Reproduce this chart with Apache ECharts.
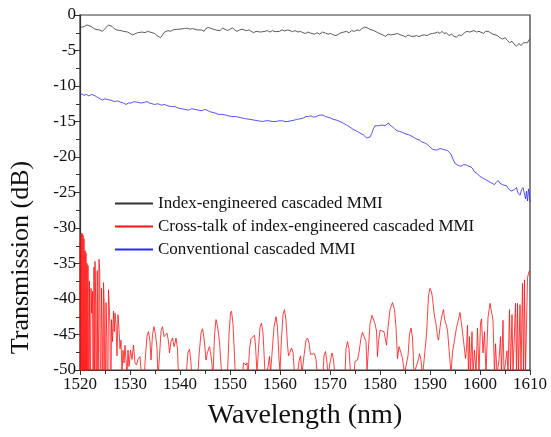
<!DOCTYPE html>
<html><head><meta charset="utf-8">
<script src="https://cdn.jsdelivr.net/npm/echarts@6/dist/echarts.min.js"></script>
<style>html,body{margin:0;padding:0;background:#fff}#c{width:551px;height:437px}</style>
</head><body><div id="c"></div>
<script>
const xTicks = [1520,1530,1540,1550,1560,1570,1580,1590,1600,1610];
const yTicks = [-50,-45,-40,-35,-30,-25,-20,-15,-10,-5,0];
const seriesNames = ["Index-engineered cascaded MMI","Cross-talk of index-engineered cascaded MMI","Conventional cascaded MMI"];

const blackX = [1520.0,1520.2,1520.6,1521.0,1521.4,1521.8,1522.2,1522.6,1523.0,1523.4,1523.8,1524.2,1524.5,1524.9,1525.3,1525.7,1526.0,1526.4,1526.8,1527.3,1527.7,1528.2,1528.7,1529.1,1529.5,1530.0,1530.5,1530.9,1531.5,1531.9,1532.4,1533.0,1533.5,1534.0,1534.4,1534.9,1535.4,1535.8,1536.1,1536.5,1536.9,1537.2,1537.6,1538.1,1538.6,1539.0,1539.5,1540.0,1540.4,1540.9,1541.5,1542.0,1542.5,1542.9,1543.4,1543.8,1544.3,1544.8,1545.2,1545.7,1546.2,1546.6,1547.1,1547.5,1548.0,1548.5,1549.0,1549.5,1550.0,1550.5,1550.9,1551.4,1551.9,1552.4,1552.8,1553.3,1553.8,1554.2,1554.7,1555.2,1555.6,1556.1,1556.5,1557.0,1557.5,1558.0,1558.5,1559.0,1559.4,1559.9,1560.4,1560.9,1561.5,1562.0,1562.5,1563.0,1563.6,1564.1,1564.6,1565.1,1565.6,1566.1,1566.5,1566.9,1567.4,1567.9,1568.5,1569.1,1569.6,1570.1,1570.7,1571.2,1571.7,1572.2,1572.8,1573.3,1573.8,1574.3,1574.9,1575.4,1575.9,1576.4,1576.9,1577.4,1577.9,1578.3,1578.8,1579.2,1579.7,1580.2,1580.6,1581.1,1581.6,1582.1,1582.5,1583.0,1583.5,1584.1,1584.6,1585.1,1585.6,1586.2,1586.8,1587.3,1587.8,1588.4,1588.9,1589.4,1589.9,1590.5,1591.0,1591.5,1592.0,1592.4,1592.8,1593.3,1593.8,1594.3,1594.8,1595.3,1595.8,1596.3,1596.9,1597.4,1597.9,1598.3,1598.8,1599.3,1599.8,1600.2,1600.7,1601.1,1601.6,1602.1,1602.6,1603.0,1603.5,1604.0,1604.5,1605.0,1605.5,1605.9,1606.4,1606.8,1607.3,1607.8,1608.2,1608.7,1609.1,1609.5,1609.8,1610.0];
const blackY = [-1.7,-1.6,-1.7,-1.5,-1.4,-1.25,-1.6,-1.8,-2.0,-1.8,-2.1,-2.2,-2.3,-2.0,-1.7,-1.4,-1.3,-1.6,-1.9,-2.1,-1.9,-2.2,-2.3,-2.1,-2.4,-2.6,-2.8,-2.6,-2.5,-2.7,-2.4,-2.5,-2.3,-2.4,-2.2,-2.6,-2.9,-3.1,-3.2,-2.8,-2.4,-2.3,-2.2,-2.3,-2.1,-2.2,-2.0,-2.0,-2.2,-1.9,-1.85,-2.0,-1.9,-1.8,-2.1,-1.9,-2.1,-2.3,-1.9,-1.75,-1.9,-2.0,-2.1,-1.9,-2.2,-1.85,-2.0,-2.2,-2.0,-1.8,-2.1,-2.3,-2.1,-2.0,-1.85,-2.2,-2.1,-2.3,-2.5,-2.3,-2.45,-2.4,-2.25,-2.3,-2.2,-2.4,-2.2,-2.35,-2.2,-2.3,-2.1,-2.25,-2.1,-2.2,-2.35,-2.2,-2.4,-2.3,-2.5,-2.6,-2.4,-2.55,-2.8,-2.7,-2.5,-2.7,-2.4,-2.55,-2.7,-2.6,-2.8,-2.9,-2.7,-2.5,-2.4,-2.3,-2.5,-2.2,-2.3,-2.1,-2.2,-1.9,-1.7,-1.8,-2.0,-1.85,-2.2,-2.4,-2.55,-2.7,-2.9,-3.0,-2.7,-2.8,-2.55,-2.7,-2.6,-2.8,-2.9,-3.1,-2.8,-3.0,-3.0,-2.9,-3.05,-2.85,-2.8,-2.9,-2.7,-2.6,-2.55,-2.4,-2.6,-2.3,-2.6,-2.5,-2.9,-2.7,-3.0,-3.1,-2.8,-2.9,-2.5,-2.3,-2.4,-2.15,-2.2,-2.4,-2.3,-2.45,-2.6,-2.3,-2.3,-2.5,-2.7,-2.8,-2.9,-3.2,-3.4,-3.2,-3.6,-3.9,-3.7,-4.1,-4.4,-4.0,-4.3,-3.9,-3.7,-3.9,-3.5,-3.4];

const redX = [1520.0,1520.1,1520.2,1520.3,1520.4,1520.5,1520.6,1520.7,1520.8,1520.9,1521.0,1521.1,1521.2,1521.3,1521.4,1521.5,1521.6,1521.75,1521.9,1522.05,1522.2,1522.35,1522.5,1522.65,1522.8,1522.95,1523.0,1523.15,1523.3,1523.45,1523.6,1523.8,1523.95,1524.1,1524.3,1524.45,1524.6,1524.7,1524.85,1525.0,1525.2,1525.35,1525.5,1525.7,1525.85,1526.0,1526.15,1526.3,1526.5,1526.7,1526.85,1527.0,1527.2,1527.4,1527.6,1527.8,1528.0,1528.2,1528.4,1528.6,1528.8,1529.0,1529.2,1529.4,1529.6,1529.8,1530.1,1530.4,1530.7,1531.0,1531.3,1531.6,1532.0,1532.3,1532.6,1533.0,1533.4,1533.7,1534.0,1534.2,1534.5,1534.8,1535.1,1535.4,1535.6,1535.9,1536.2,1536.5,1536.8,1537.1,1537.4,1537.7,1537.9,1538.2,1538.5,1538.8,1539.0,1539.2,1539.5,1539.7,1540.0,1541.2,1541.6,1541.9,1542.2,1542.4,1543.2,1543.8,1544.2,1544.5,1544.8,1545.2,1545.5,1545.9,1546.2,1546.4,1546.6,1546.9,1547.2,1547.5,1547.9,1548.2,1548.5,1549.5,1549.8,1550.1,1550.3,1550.6,1550.9,1551.1,1552.4,1552.7,1553.0,1553.2,1553.4,1553.6,1553.9,1554.2,1554.4,1554.6,1554.9,1555.1,1555.4,1555.7,1556.0,1556.3,1556.6,1556.9,1557.1,1557.6,1557.9,1558.1,1558.4,1558.8,1559.2,1559.5,1559.8,1560.0,1560.3,1560.6,1560.9,1561.2,1561.5,1561.7,1562.0,1562.3,1562.6,1562.9,1563.3,1563.8,1564.1,1564.4,1564.8,1565.2,1565.5,1565.8,1566.1,1566.5,1566.9,1567.2,1567.5,1568.6,1568.8,1569.1,1569.4,1569.6,1570.0,1570.4,1570.7,1571.0,1573.0,1573.2,1573.5,1573.8,1574.1,1574.8,1575.0,1575.2,1575.5,1575.8,1576.2,1576.5,1576.9,1577.2,1577.4,1577.6,1578.0,1578.4,1578.7,1579.0,1579.3,1579.5,1579.7,1580.0,1580.4,1580.8,1581.3,1581.6,1582.0,1582.5,1582.9,1583.2,1583.5,1583.8,1584.2,1584.5,1584.9,1585.6,1585.9,1586.2,1586.5,1586.8,1587.7,1587.9,1588.2,1588.5,1589.3,1589.7,1590.0,1590.3,1590.5,1590.9,1591.2,1591.5,1591.7,1592.0,1592.2,1592.5,1592.7,1592.9,1593.2,1593.5,1593.8,1594.2,1594.5,1594.9,1595.3,1595.6,1596.0,1596.3,1596.8,1597.1,1597.3,1597.5,1597.7,1597.9,1598.1,1598.4,1598.6,1598.9,1599.2,1599.5,1599.8,1600.1,1600.3,1600.6,1600.9,1601.2,1601.6,1602.0,1602.4,1602.6,1602.9,1603.1,1603.4,1603.8,1604.1,1604.3,1604.6,1604.8,1605.1,1605.4,1605.6,1605.9,1606.1,1606.4,1606.6,1607.1,1607.3,1607.5,1607.7,1608.0,1608.2,1608.5,1608.7,1608.9,1609.1,1609.5,1609.8,1610.0];
const redY = [-32,-60,-30.8,-60,-30.7,-60,-31,-60,-31.5,-60,-33.2,-60,-33.5,-60,-35,-60,-35.3,-60,-37.5,-60,-38.5,-42,-38.9,-60,-35.5,-60,-34.7,-41,-60,-36,-60,-34.4,-36.1,-60,-38.5,-45,-60,-37.7,-41,-60,-40.5,-45.3,-60,-38.7,-41,-44,-60,-42.9,-46,-41.7,-44.6,-42,-43.5,-48,-42.2,-44.3,-47,-45.8,-50.5,-47.2,-49,-46.5,-48.6,-51,-47.2,-49.5,-47.2,-48.5,-46.5,-49,-49.3,-48.5,-48.1,-51,-55,-49,-45.2,-44.6,-46,-48.6,-45,-43.9,-45,-47,-51,-48,-44.5,-43.9,-45.3,-45.2,-44.8,-46,-47.6,-46,-45.5,-46.7,-46.2,-45.5,-47,-51,-55,-51,-47.5,-47.1,-49,-52,-55,-48,-44.8,-44.2,-45.5,-48.6,-47.5,-46.7,-48,-49.3,-51,-45,-42.9,-43.8,-46,-49.3,-52,-50.5,-45,-42,-41.7,-43.5,-48,-52,-52,-49,-48.8,-49.3,-49,-51,-47,-45.6,-45.5,-45.4,-45.1,-46.5,-50.5,-47,-44,-43.4,-44.8,-49,-52,-49.5,-48.1,-50.5,-50.5,-44,-42.5,-44,-48.5,-50,-45.5,-42.2,-41.5,-43,-46.5,-48,-47.5,-46.9,-47.5,-50.5,-52,-48.8,-48,-50.5,-48,-45.8,-45.5,-46.2,-47.8,-47.6,-47.7,-48.5,-51,-50.5,-48,-47.4,-49,-51,-49,-47.6,-48.5,-51,-50.5,-47,-46,-47,-50.5,-50.5,-48.8,-48.8,-48.6,-47.5,-45.5,-44.7,-44.7,-46,-50,-48,-43.5,-42.3,-42.5,-43.5,-44.5,-48.1,-46,-44.4,-44.2,-44.6,-46.5,-44,-41.5,-40.5,-41.5,-44,-48.4,-46.7,-47.6,-48.4,-50.5,-48,-45,-44.1,-45.5,-50.5,-48.5,-47.7,-48.6,-51,-45,-39.5,-38.5,-39,-39.9,-42.5,-43.5,-45.3,-45.8,-44,-43,-42,-41.5,-42.8,-43.5,-44.4,-47,-50.5,-47.5,-45.8,-44,-43.2,-41.9,-43.5,-46.5,-48.4,-47,-43.7,-50.5,-45.3,-50.5,-44.6,-50.5,-47.2,-50.5,-44.1,-50.5,-43.4,-42.8,-47.6,-44.6,-50.5,-42.6,-40.6,-40.8,-43,-50.5,-46.3,-50.5,-48.6,-45.3,-50.5,-43,-50.5,-49,-47.3,-50.5,-41.5,-50.5,-42.2,-50.5,-40.6,-50.5,-40.6,-50.5,-40.8,-50.5,-37.8,-50.5,-37.3,-50.5,-37,-36.1,-36];

const blueX = [1520.0,1520.4,1520.8,1521.3,1521.8,1522.3,1522.8,1523.2,1523.5,1524.0,1524.5,1525.0,1525.5,1526.2,1526.9,1527.5,1528.2,1528.7,1529.2,1529.7,1530.2,1530.9,1531.6,1532.2,1532.9,1533.4,1533.9,1534.4,1534.9,1535.6,1536.3,1536.9,1537.6,1538.3,1539.0,1539.6,1540.3,1541.0,1541.7,1542.3,1543.0,1543.7,1544.4,1544.9,1545.4,1545.9,1546.4,1547.0,1547.7,1548.4,1549.1,1549.7,1550.4,1551.1,1551.8,1552.4,1553.1,1554.0,1554.8,1555.6,1556.5,1557.2,1557.8,1558.5,1559.2,1559.8,1560.5,1561.0,1561.5,1562.2,1562.9,1563.5,1564.2,1564.7,1565.2,1565.7,1566.2,1566.7,1567.2,1567.9,1568.6,1569.1,1569.6,1570.1,1570.6,1571.3,1572.0,1572.6,1573.3,1574.0,1574.6,1575.2,1575.7,1576.2,1576.7,1577.0,1577.3,1577.7,1578.0,1578.2,1578.4,1578.7,1579.0,1579.4,1579.7,1580.1,1580.4,1580.7,1581.0,1581.4,1581.7,1582.0,1582.4,1582.9,1583.4,1583.9,1584.4,1584.9,1585.4,1585.9,1586.4,1586.9,1587.4,1587.9,1588.4,1588.9,1589.4,1590.0,1590.5,1591.0,1591.5,1592.0,1592.5,1593.0,1593.5,1593.9,1594.2,1594.6,1595.0,1595.2,1595.7,1596.2,1596.7,1597.2,1597.7,1598.2,1598.6,1598.9,1599.4,1599.9,1600.4,1600.9,1601.4,1601.9,1602.4,1602.9,1603.2,1603.6,1604.0,1604.3,1604.8,1605.3,1605.6,1605.9,1606.2,1606.6,1606.9,1607.3,1607.6,1608.0,1608.3,1608.6,1608.9,1609.1,1609.3,1609.5,1609.7,1609.9,1610.0];
const blueY = [-11.0,-11.2,-11.3,-11.2,-11.4,-11.2,-11.3,-11.5,-11.6,-11.8,-12.0,-11.8,-11.9,-12.0,-12.2,-12.1,-12.3,-12.4,-12.6,-12.4,-12.4,-12.2,-12.3,-12.4,-12.3,-12.2,-12.4,-12.5,-12.6,-12.5,-12.7,-12.6,-12.8,-12.9,-12.9,-13.1,-13.2,-13.3,-13.4,-13.2,-13.3,-13.4,-13.5,-13.3,-13.4,-13.6,-13.7,-13.8,-14.0,-14.0,-14.1,-14.2,-14.3,-14.3,-14.4,-14.5,-14.6,-14.7,-14.8,-14.9,-15.0,-14.9,-14.9,-15.0,-15.0,-14.9,-14.9,-15.0,-15.0,-14.9,-14.8,-14.7,-14.6,-14.5,-14.3,-14.3,-14.2,-14.4,-14.3,-14.1,-14.1,-14.3,-14.4,-14.5,-14.7,-14.8,-15.0,-15.2,-15.5,-15.8,-16.1,-16.3,-16.5,-16.7,-16.9,-17.1,-17.3,-17.4,-17.2,-16.9,-16.6,-16.0,-15.6,-15.7,-15.6,-15.5,-15.5,-15.7,-15.6,-15.4,-15.2,-15.5,-15.7,-16.0,-16.3,-16.4,-16.5,-16.7,-16.8,-16.9,-17.1,-17.3,-17.5,-17.6,-17.9,-18.0,-18.2,-18.6,-18.9,-19.0,-19.0,-18.8,-18.9,-19.0,-19.1,-19.3,-19.6,-20.3,-20.9,-21.1,-21.2,-21.3,-21.1,-21.1,-21.3,-21.4,-21.7,-22.1,-22.3,-22.7,-22.9,-23.1,-23.3,-23.5,-23.7,-23.9,-23.6,-23.3,-23.7,-23.9,-24.0,-24.0,-24.4,-24.5,-24.8,-25.0,-24.6,-24.3,-25.1,-25.4,-24.6,-24.3,-25.2,-25.9,-24.8,-26.2,-24.5,-25.6,-26.3,-25.4];

function pairs(xs, ys){ return xs.map((x,i)=>[x, ys[i]]); }

const chart = echarts.init(document.getElementById('c'), null, {renderer:'canvas'});
const serif = 'Liberation Serif';
chart.setOption({
  animation:false,
  backgroundColor:'#fff',
  grid:{left:79, right:21, top:15, bottom:67, show:true, borderColor:'#333', borderWidth:1.2, backgroundColor:'transparent'},
  legend:{
    show:true, orient:'vertical', left:109, top:190, itemWidth:38, itemHeight:14, itemGap:6,
    textStyle:{fontFamily:serif, fontSize:17, color:'#111'},
    itemStyle:{opacity:0},
    data:seriesNames
  },
  xAxis:{
    type:'value', min:xTicks[0], max:xTicks[xTicks.length-1], interval:10,
    name:'Wavelength (nm)', nameLocation:'middle', nameGap:32,
    nameTextStyle:{fontFamily:serif, fontSize:28, color:'#111'},
    axisLine:{show:true, onZero:false, lineStyle:{color:'#333', width:1.2}},
    axisTick:{show:true, length:5, lineStyle:{color:'#333'}},
    minorTick:{show:true, splitNumber:2, length:4, lineStyle:{color:'#333'}},
    axisLabel:{fontFamily:serif, fontSize:17, color:'#111', margin:6, formatter:function(v){return String(v);}},
    splitLine:{show:false}
  },
  yAxis:{
    type:'value', min:yTicks[0], max:yTicks[yTicks.length-1], interval:5,
    name:'Transmission (dB)', nameLocation:'middle', nameGap:46,
    nameTextStyle:{fontFamily:serif, fontSize:26, color:'#111', padding:[0,130,0,0]},
    axisLine:{show:true, onZero:false, lineStyle:{color:'#333', width:1.2}},
    axisTick:{show:true, length:5, lineStyle:{color:'#333'}},
    minorTick:{show:true, splitNumber:2, length:4, lineStyle:{color:'#333'}},
    axisLabel:{fontFamily:serif, fontSize:17, color:'#111', margin:4, formatter:function(v){return String(v);}},
    splitLine:{show:false}
  },
  series:[
    {name:seriesNames[0], type:'line', symbol:'none', clip:true, data:pairs(blackX,blackY), lineStyle:{color:'#333', width:0.8}, itemStyle:{color:'#333'}},
    {name:seriesNames[1], type:'line', symbol:'none', clip:true, data:pairs(redX,redY), lineStyle:{color:'#ff1010', width:0.8}, itemStyle:{color:'#ff1010'}},
    {name:seriesNames[2], type:'line', symbol:'none', clip:true, data:pairs(blueX,blueY), lineStyle:{color:'#2a2aff', width:0.8}, itemStyle:{color:'#2a2aff'}}
  ]
});
</script></body></html>
